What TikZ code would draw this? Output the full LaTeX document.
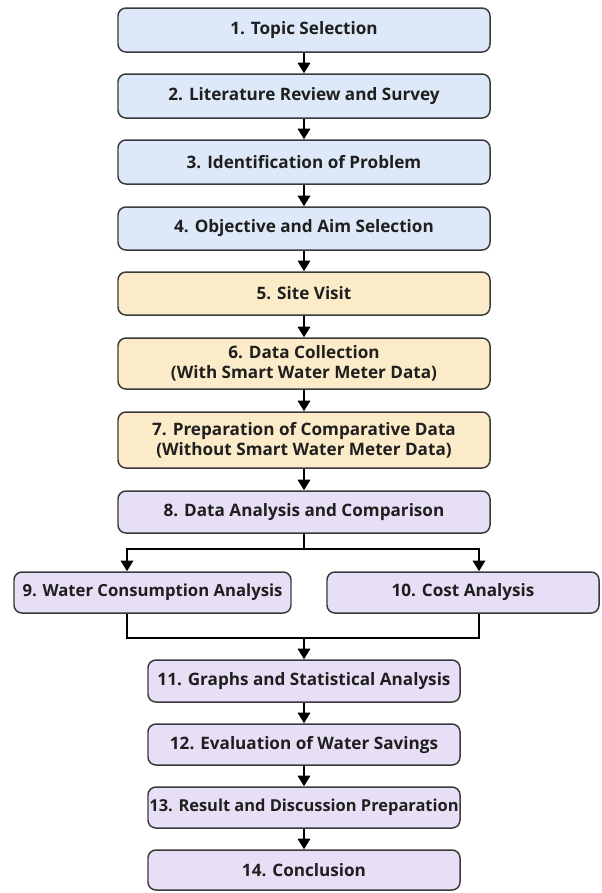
\documentclass[tikz,border=0pt]{standalone}
\usepackage{fontspec}
\setmainfont{Open Sans}
\usetikzlibrary{arrows.meta}
\definecolor{fblue}{HTML}{DDE8F8}
\definecolor{fyellow}{HTML}{FCEBC8}
\definecolor{fpurple}{HTML}{E7DFF5}
\definecolor{edgec}{HTML}{3A3A3A}
\tikzset{
  stepbox/.style={draw=edgec, line width=0.85pt, rounded corners=4.5pt, align=center,
    font=\fontsize{9.75}{11.6}\selectfont\bfseries, inner sep=0pt, text=black!88},
  wide/.style={stepbox, minimum width=372*0.02cm},
  narrow/.style={stepbox, minimum width=312*0.02cm},
  conn/.style={line width=1.25pt, black},
  arr/.style={conn, -{Triangle[length=6pt,width=7pt]}},
}
\begin{document}
\begin{tikzpicture}[x=0.02cm, y=-0.02cm]
\useasboundingbox (0,0) rectangle (602,893);
\node[wide, fill=fblue, minimum height=44*0.02cm] (b1) at (304,30) {1. Topic Selection};
\node[wide, fill=fblue, minimum height=44*0.02cm] (b2) at (304,96) {2. Literature Review and Survey};
\node[wide, fill=fblue, minimum height=44*0.02cm] (b3) at (304,162) {3. Identification of Problem};
\node[wide, fill=fblue, minimum height=43*0.02cm] (b4) at (304,228.5) {4. Objective and Aim Selection};
\node[wide, fill=fyellow, minimum height=43*0.02cm] (b5) at (304,293.5) {5. Site Visit};
\node[wide, fill=fyellow, minimum height=51*0.02cm] (b6) at (304,363.5) {6. Data Collection\\(With Smart Water Meter Data)};
\node[wide, fill=fyellow, minimum height=56*0.02cm] (b7) at (304,440) {7. Preparation of Comparative Data\\(Without Smart Water Meter Data)};
\node[wide, fill=fpurple, minimum height=42*0.02cm] (b8) at (304,512) {8. Data Analysis and Comparison};
\node[stepbox, fill=fpurple, minimum width=277*0.02cm, minimum height=41*0.02cm, font=\fontsize{9.5}{11.6}\selectfont\bfseries] (b9) at (152.5,592.5) {9. Water Consumption Analysis};
\node[stepbox, fill=fpurple, minimum width=272*0.02cm, minimum height=41*0.02cm] (b10) at (463,592.5) {10. Cost Analysis};
\node[narrow, fill=fpurple, minimum height=42*0.02cm] (b11) at (304,681) {11. Graphs and Statistical Analysis};
\node[narrow, fill=fpurple, minimum height=41*0.02cm] (b12) at (304,744.5) {12. Evaluation of Water Savings};
\node[narrow, fill=fpurple, minimum height=41*0.02cm, font=\fontsize{9.35}{11.6}\selectfont\bfseries] (b13) at (304,807.5) {13. Result and Discussion Preparation};
\node[narrow, fill=fpurple, minimum height=40*0.02cm] (b14) at (304,870) {14. Conclusion};

\foreach \a/\b in {b1/b2,b2/b3,b3/b4,b4/b5,b5/b6,b6/b7,b7/b8,b11/b12,b12/b13,b13/b14}
  \draw[arr] (\a) -- (\b);

\coordinate (sp) at (304,549);
\coordinate (spl) at (127,549);
\coordinate (spr) at (479,549);
\coordinate (mg) at (304,638);
\coordinate (mgl) at (127,638);
\coordinate (mgr) at (479,638);
\draw[conn] (b8.south) -- (sp);
\draw[arr] (sp) -- (spl) -- (spl |- b9.north);
\draw[arr] (sp) -- (spr) -- (spr |- b10.north);
\draw[conn] (mgl |- b9.south) -- (mgl) -- (mgr) -- (mgr |- b10.south);
\draw[arr] (mg) -- (b11.north);
\end{tikzpicture}
\end{document}
